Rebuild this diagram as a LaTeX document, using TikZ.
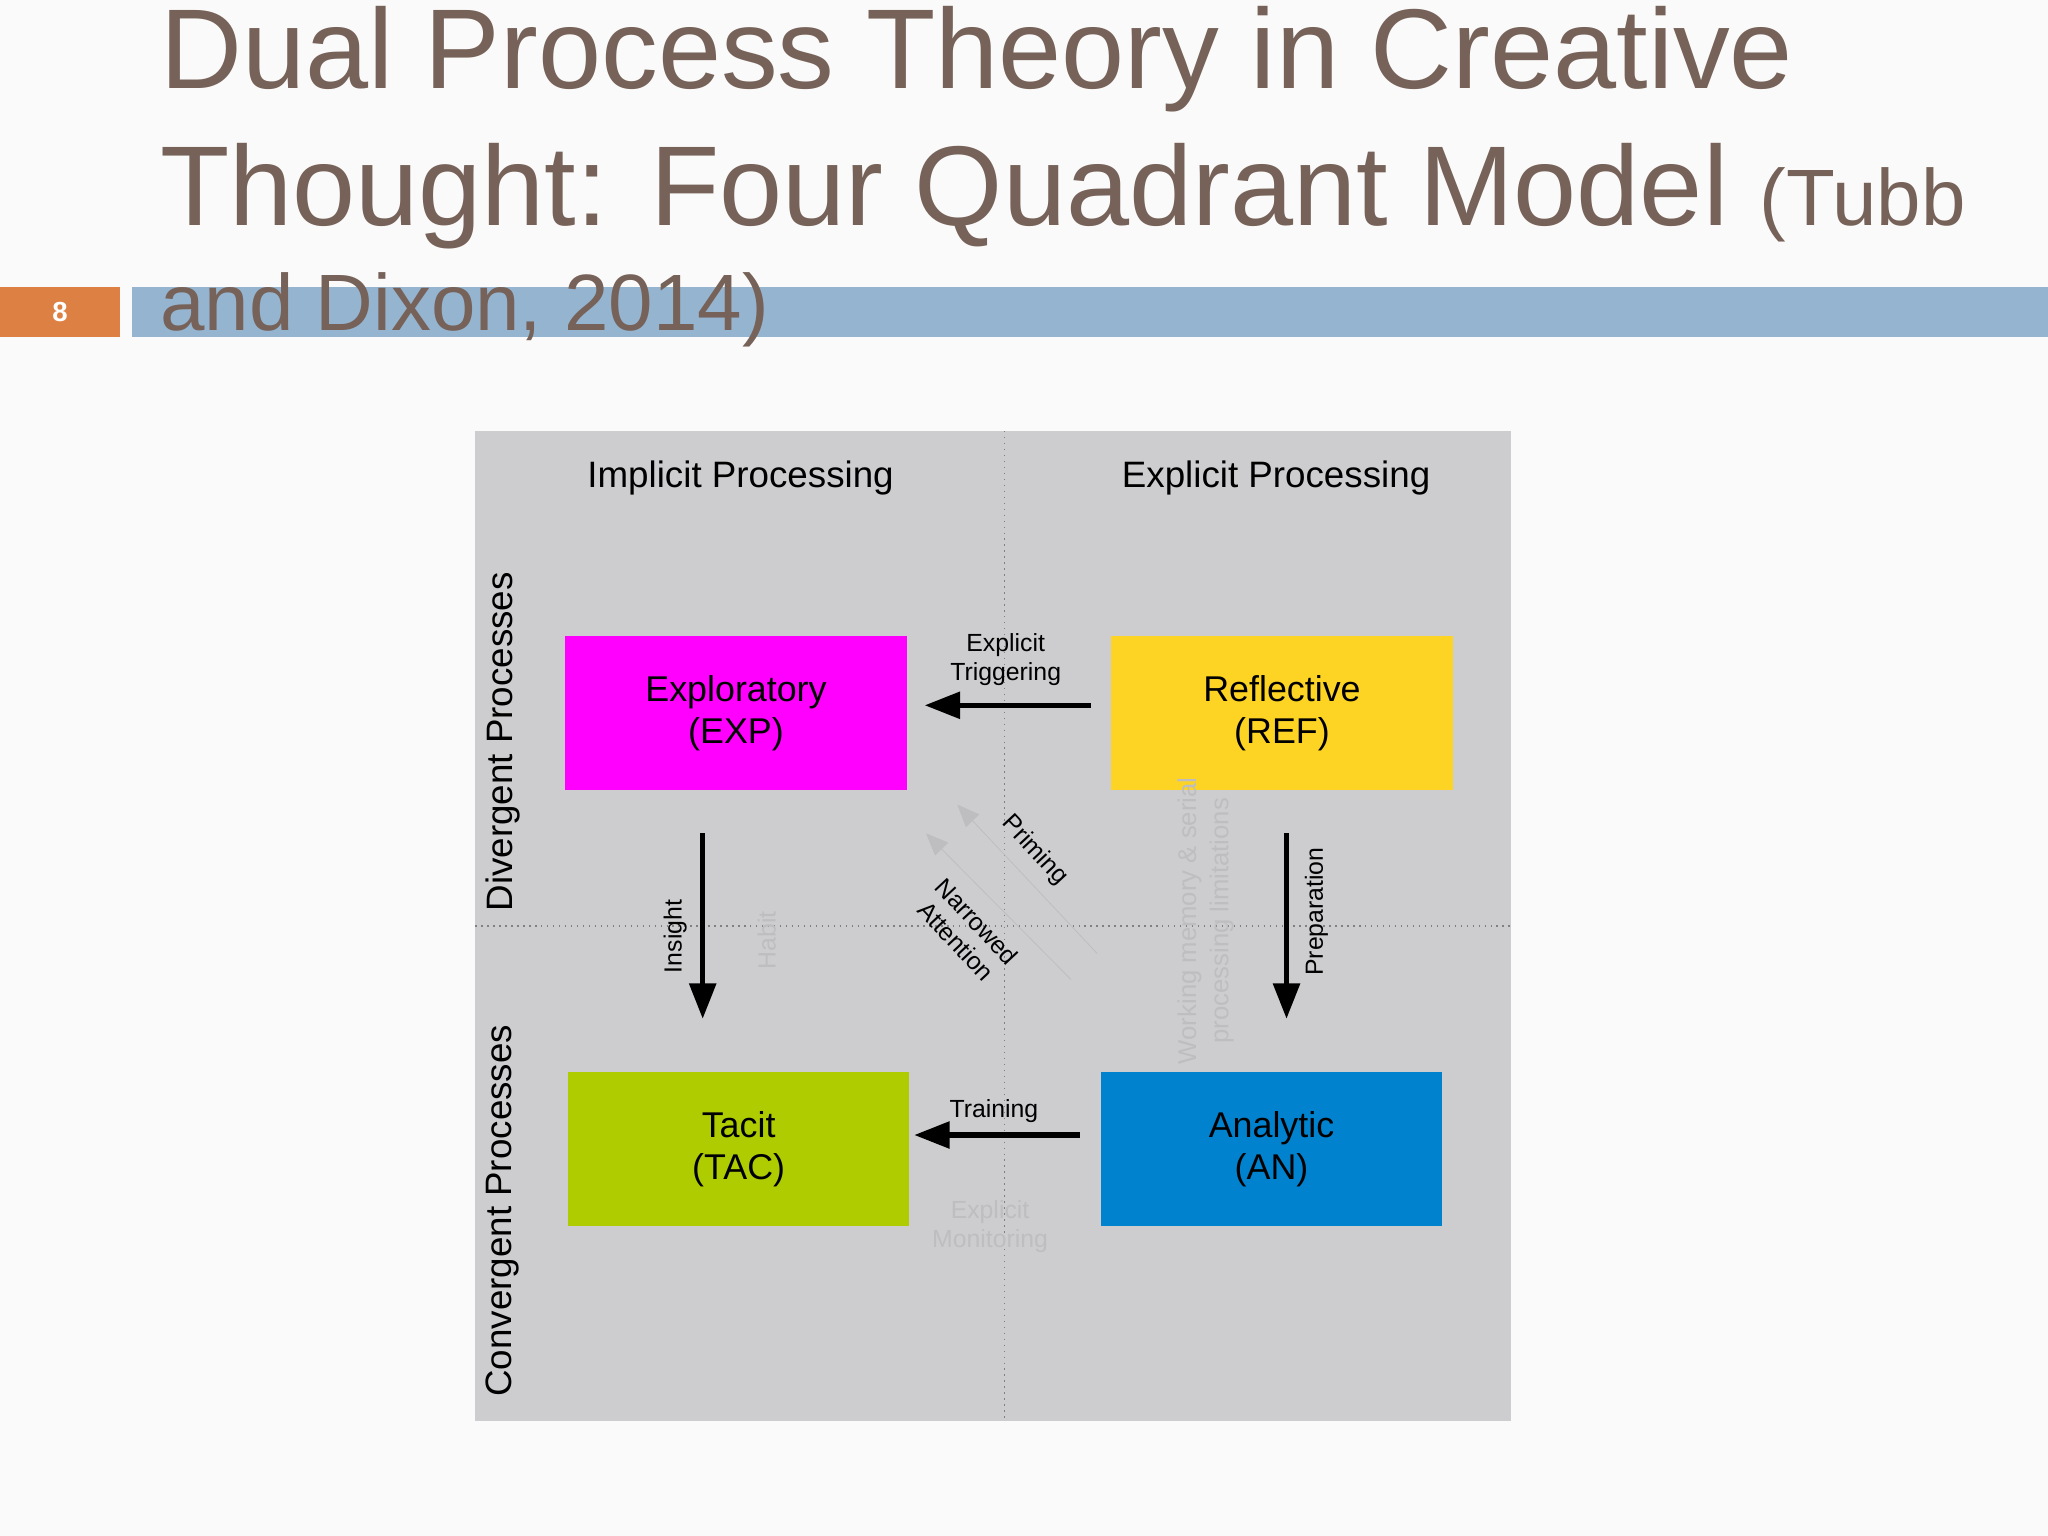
\documentclass[tikz,border=0pt]{standalone}
\usepackage{fontspec}
\setmainfont{Liberation Sans}
\usetikzlibrary{arrows.meta}
\definecolor{bg}{RGB}{250,250,250}
\definecolor{titlec}{RGB}{118,98,88}
\definecolor{orangec}{RGB}{221,128,67}
\definecolor{bluebar}{RGB}{149,180,208}
\definecolor{panel}{RGB}{205,204,207}
\definecolor{magc}{RGB}{255,0,255}
\definecolor{yelc}{RGB}{253,212,35}
\definecolor{grnc}{RGB}{175,204,0}
\definecolor{bluc}{RGB}{0,130,207}
\definecolor{faint}{RGB}{190,189,192}
\begin{document}
\begin{tikzpicture}[x=0.01cm,y=-0.01cm,
  quad/.style={minimum width=2.61cm,minimum height=1.18cm,inner sep=0pt,align=center,font=\fontsize{7.8pt}{9pt}\selectfont},
  head/.style={font=\fontsize{8pt}{9pt}\selectfont},
  small/.style={font=\fontsize{5.4pt}{6.3pt}\selectfont,align=center},
  ttl/.style={anchor=base west,text=titlec,inner sep=0pt},
  big/.style={line width=0.04cm,-{Triangle[length=0.27cm,width=0.2cm]}},
  pale/.style={line width=0.006cm,draw=faint,-{Triangle[length=0.17cm,width=0.14cm]}}]
\useasboundingbox (0,0) rectangle (1568,1176);
\fill[bg] (0,0) rectangle (1568,1176);
\fill[orangec] (0,220) rectangle (92,258);
\node[text=white,font=\fontsize{6pt}{7pt}\selectfont\bfseries] (num) at (46,239) {8};
\fill[bluebar] (101,220) rectangle (1568,258);
\node[ttl,font=\fontsize{24.7pt}{26pt}\selectfont] (t1) at (122,68) {Dual Process Theory in Creative};
\node[ttl,font=\fontsize{24.7pt}{26pt}\selectfont] (t2) at (122,173) {Thought: Four Quadrant Model {\fontsize{17.4pt}{18pt}\selectfont(Tubb}};
\node[ttl,font=\fontsize{17.4pt}{18pt}\selectfont] (t3) at (122,253) {and Dixon, 2014)};
\fill[panel] (364,330) rectangle (1157,1088);
\draw[densely dotted,line width=0.3pt,gray] (769,330) -- (769,1088);
\draw[densely dotted,line width=0.3pt,gray] (364,709) -- (1157,709);
\node[head] (imp) at (567,366) {Implicit Processing};
\node[head] (expl) at (977,366) {Explicit Processing};
\node[head,rotate=90] (div) at (385,568) {Divergent Processes};
\node[head,rotate=90] (conv) at (385,927) {Convergent Processes};
\node[quad,fill=magc] (exp) at (563.5,546) {Exploratory\\(EXP)};
\node[quad,fill=yelc] (ref) at (981.5,546) {Reflective\\(REF)};
\node[quad,fill=grnc] (tac) at (565.5,880) {Tacit\\(TAC)};
\node[quad,fill=bluc] (an) at (973.5,880) {Analytic\\(AN)};
% faint labels
\node[small,text=faint,rotate=90] (habit) at (587,720) {Habit};
\node[small,text=faint] (mon) at (758,939) {Explicit\\Monitoring};
\node[small,text=faint,rotate=90,font=\fontsize{5.6pt}{7pt}\selectfont] (wm) at (923,705) {Working memory \& serial\\processing limitations};
% faint diagonal arrows
\coordinate (p1) at (840,730); \coordinate (p2) at (733,616);
\coordinate (n1) at (820,750); \coordinate (n2) at (709,638);
\draw[pale] (p1) -- (p2);
\draw[pale] (n1) -- (n2);
\node[small,rotate=-47] (prim) at (792,651) {Priming};
\node[small,rotate=-47] (narr) at (740,713) {Narrowed\\Attention};
% main arrows
\coordinate (a1) at (835,540); \coordinate (a2) at (708,540);
\draw[big] (a1) -- (a2);
\node[small] (trig) at (770,505) {Explicit\\Triggering};
\coordinate (b1) at (538,638); \coordinate (b2) at (538,780);
\draw[big] (b1) -- (b2);
\node[small,rotate=90] (ins) at (517,717) {Insight};
\coordinate (c1) at (985,638); \coordinate (c2) at (985,780);
\draw[big] (c1) -- (c2);
\node[small,rotate=90] (prep) at (1008,698) {Preparation};
\coordinate (d1) at (827,869); \coordinate (d2) at (700,869);
\draw[big] (d1) -- (d2);
\node[small] (train) at (761,851) {Training};
\end{tikzpicture}
\end{document}
